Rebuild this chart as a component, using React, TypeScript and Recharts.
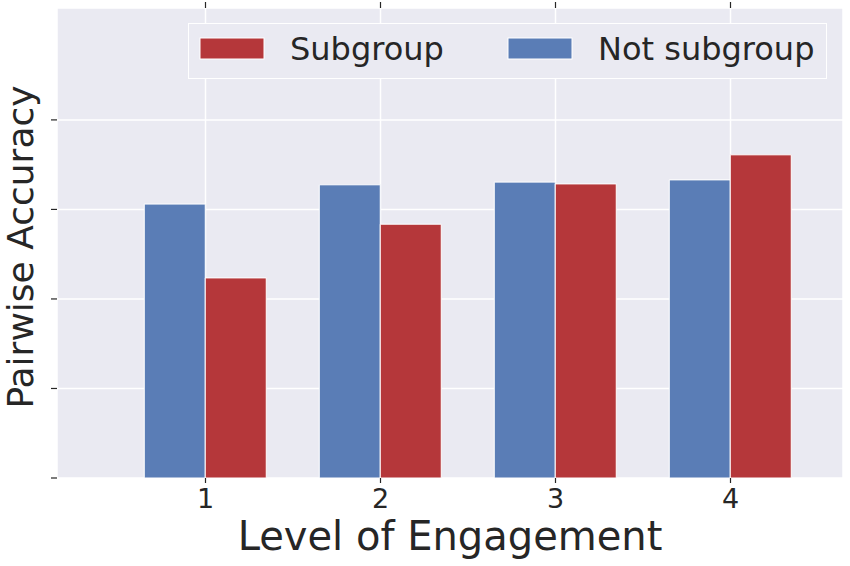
import React from "react";
import { BarChart, Bar, XAxis, YAxis, CartesianGrid, Legend, Label } from "recharts";

const levels = ["1", "2", "3", "4"];
const subgroup = [0.447, 0.567, 0.657, 0.722];
const notSubgroup = [0.612, 0.655, 0.661, 0.666];
const yTicks = [0, 0.2, 0.4, 0.6, 0.8];

const RED = "#B5373A";
const BLUE = "#5A7DB6";
const BG = "#EAEAF2";
const INK = "#262626";
const FONT = "DejaVu Sans, sans-serif";

const data = levels.map((level, i) => ({
  level,
  subgroup: subgroup[i],
  notSubgroup: notSubgroup[i],
}));

const legendItems = [
  { name: "Subgroup", color: RED, x: 12, tx: 102 },
  { name: "Not subgroup", color: BLUE, x: 320, tx: 410 },
];

function LegendBox() {
  return (
    <svg width={639} height={56} style={{ display: "block" }}>
      <rect x={0.5} y={0.5} width={638} height={55} fill={BG} stroke="#ffffff" strokeWidth={1} />
      {legendItems.map((item) => (
        <g key={item.name}>
          <rect x={item.x} y={15} width={64} height={21} fill={item.color} stroke="#ffffff" strokeWidth={1} />
          <text x={item.tx} y={37} fontSize={32} fill={INK} fontFamily={FONT}>
            {item.name}
          </text>
        </g>
      ))}
    </svg>
  );
}

export default function App() {
  const tickStyle = { fontSize: 27, fill: INK, fontFamily: FONT };
  return (
    <div style={{ position: "absolute", left: 0, top: 0, width: 850, height: 566, background: "#fff" }}>
      <BarChart
        width={850}
        height={566}
        data={data}
        margin={{ top: 3, right: 2, bottom: 58, left: 52 }}
        barCategoryGap="15%"
        barGap={0}
      >
        <CartesianGrid fill={BG} fillOpacity={1} stroke="#ffffff" strokeWidth={1.5} />
        <XAxis
          dataKey="level"
          height={30}
          padding={{ left: 61, right: 25 }}
          axisLine={false}
          tickLine={{ stroke: INK, strokeWidth: 1.2 }}
          tickSize={5}
          tickMargin={6}
          tick={tickStyle}
        >
          <Label
            content={({ viewBox }: any) => (
              <text
                x={viewBox.x + viewBox.width / 2}
                y={viewBox.y + 72}
                textAnchor="middle"
                fontSize={40}
                fill={INK}
                fontFamily={FONT}
              >
                Level of Engagement
              </text>
            )}
          />
        </XAxis>
        <XAxis
          xAxisId="top"
          orientation="top"
          dataKey="level"
          height={5}
          padding={{ left: 61, right: 25 }}
          axisLine={false}
          tickLine={{ stroke: INK, strokeWidth: 1.2 }}
          tickSize={6}
          tick={() => <g />}
        />
        <YAxis
          type="number"
          domain={[0, 1.05]}
          ticks={yTicks}
          width={5}
          axisLine={false}
          tickLine={{ stroke: INK, strokeWidth: 1.2 }}
          tickSize={6}
          tick={() => <g />}
        >
          <Label
            content={({ viewBox }: any) => {
              const cx = 33;
              const cy = viewBox.y + viewBox.height / 2 + 4;
              return (
                <text
                  x={cx}
                  y={cy}
                  transform={`rotate(-90, ${cx}, ${cy})`}
                  textAnchor="middle"
                  fontSize={36}
                  fill={INK}
                  fontFamily={FONT}
                >
                  Pairwise Accuracy
                </text>
              );
            }}
          />
        </YAxis>
        <YAxis
          yAxisId="right"
          orientation="right"
          type="number"
          domain={[0, 1.05]}
          ticks={yTicks}
          width={5}
          axisLine={false}
          tickLine={{ stroke: INK, strokeWidth: 1.2 }}
          tickSize={6}
          tick={() => <g />}
        />
        <Legend
          verticalAlign="middle"
          align="center"
          layout="horizontal"
          wrapperStyle={{ left: 188, top: 23, width: 639, height: 56 }}
          content={() => <LegendBox />}
        />
        <Bar dataKey="notSubgroup" name="Not subgroup" fill={BLUE} stroke="#ffffff" strokeWidth={1} isAnimationActive={false} />
        <Bar dataKey="subgroup" name="Subgroup" fill={RED} stroke="#ffffff" strokeWidth={1} isAnimationActive={false} />
      </BarChart>
    </div>
  );
}
